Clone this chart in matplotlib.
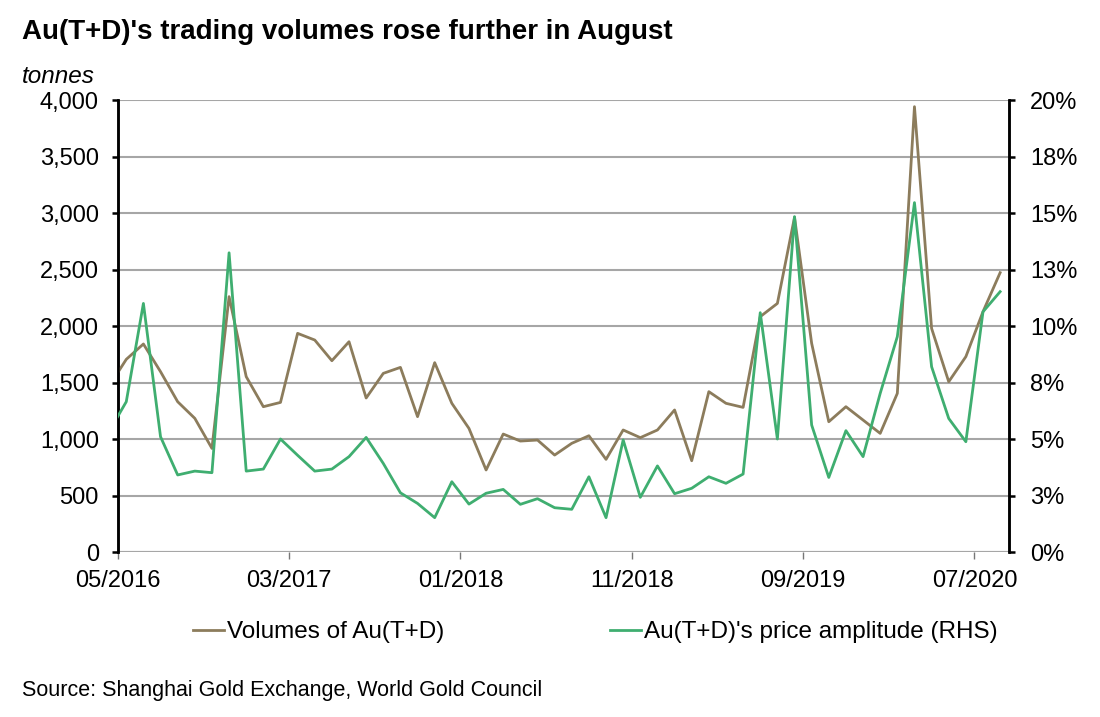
import matplotlib
matplotlib.use("Agg")
import matplotlib.pyplot as plt
import numpy as np

plt.rcParams['font.family'] = ['Liberation Sans', 'DejaVu Sans']

# monthly series, 04/2016 .. 08/2020 (the April point is only partly visible)
months = ['2016-04', '2016-05', '2016-06', '2016-07', '2016-08', '2016-09', '2016-10', '2016-11', '2016-12',
          '2017-01', '2017-02', '2017-03', '2017-04', '2017-05', '2017-06', '2017-07', '2017-08', '2017-09',
          '2017-10', '2017-11', '2017-12',
          '2018-01', '2018-02', '2018-03', '2018-04', '2018-05', '2018-06', '2018-07', '2018-08', '2018-09',
          '2018-10', '2018-11', '2018-12',
          '2019-01', '2019-02', '2019-03', '2019-04', '2019-05', '2019-06', '2019-07', '2019-08', '2019-09',
          '2019-10', '2019-11', '2019-12',
          '2020-01', '2020-02', '2020-03', '2020-04', '2020-05', '2020-06', '2020-07', '2020-08']

volumes = [1469, 1705, 1841, 1596, 1330, 1183, 917, 2260, 1552,
           1286, 1324, 1935, 1876, 1693, 1861, 1363, 1581, 1634, 1198, 1676, 1316,
           1094, 726, 1044, 982, 991, 858, 962, 1029, 820, 1080, 1012, 1080,
           1257, 808, 1419, 1316, 1280, 2083, 2200, 2962, 1847, 1153, 1286, 1168,
           1050, 1404, 3941, 1979, 1507, 1729, 2127, 2472]

amplitude = [5.34, 6.65, 11.0, 5.10, 3.41, 3.58, 3.51, 13.24, 3.58,
             3.67, 5.0, 4.28, 3.58, 3.67, 4.22, 5.07, 3.92, 2.62, 2.15, 1.52, 3.11,
             2.12, 2.60, 2.77, 2.11, 2.36, 1.96, 1.89, 3.33, 1.52, 4.96, 2.42, 3.81,
             2.58, 2.82, 3.33, 3.04, 3.45, 10.59, 5.0, 14.84, 5.62, 3.30, 5.37, 4.22,
             7.02, 9.53, 15.46, 8.2, 5.91, 4.88, 10.63, 11.52]

xtick_labels = ['05/2016', '03/2017', '01/2018', '11/2018', '09/2019', '07/2020']
left_ticks = [0, 500, 1000, 1500, 2000, 2500, 3000, 3500, 4000]
right_ticks = [0, 2.5, 5, 7.5, 10, 12.5, 15, 17.5, 20]
right_labels = ['0%', '3%', '5%', '8%', '10%', '13%', '15%', '18%', '20%']

brown = '#8c7c5c'
green = '#3fae70'

# month index from 04/2016, points sit mid-month
x = np.arange(len(months)) + 0.5
tick_pos = [months.index(m[3:] + '-' + m[:2]) for m in xtick_labels]

fig = plt.figure(figsize=(11, 7.17), dpi=100)
ax = fig.add_axes((0.107, 0.2301, 0.81, 0.6304))
ax2 = ax.twinx()

l1, = ax.plot(x, volumes, color=brown, lw=2, zorder=3)
l2, = ax2.plot(x, amplitude, color=green, lw=2, zorder=3)

ax.set_xlim(1, 53)
ax.set_ylim(0, 4000)
ax2.set_ylim(0, 20)

ax.set_yticks(left_ticks)
ax.set_yticklabels([f'{v:,}' for v in left_ticks])
ax2.set_yticks(right_ticks)
ax2.set_yticklabels(right_labels)
ax.set_xticks(tick_pos)
ax.set_xticklabels(xtick_labels)

ax.grid(axis='y', color='#a6a6a6', lw=1.5)
ax.set_axisbelow(True)

for a in (ax, ax2):
    a.spines['top'].set_visible(False)
    a.spines['bottom'].set_visible(False)
    a.spines['left'].set_linewidth(1.8)
    a.spines['right'].set_linewidth(1.8)
ax.axhline(0, color='#a6a6a6', lw=1.5, zorder=1)

ax.tick_params(axis='y', length=4.5, width=1.8, labelsize=17, pad=9)
ax2.tick_params(axis='y', length=4.5, width=1.8, labelsize=17, pad=11)
ax.tick_params(axis='x', length=5, width=1, color='#777777', labelsize=17, pad=8)

fig.text(0.02, 0.955, "Au(T+D)'s trading volumes rose further in August", fontsize=20,
         fontweight='bold', ha='left', va='center')
fig.text(0.02, 0.894, 'tonnes', fontsize=17.5, style='italic', ha='left', va='center')
fig.text(0.02, 0.037, 'Source: Shanghai Gold Exchange, World Gold Council', fontsize=15.5,
         ha='left', va='center')

fig.legend([l1, l2], ['Volumes of Au(T+D)', "Au(T+D)'s price amplitude (RHS)"],
           loc='center', bbox_to_anchor=(0.541, 0.118), ncol=2, frameon=False,
           fontsize=17.5, handlelength=1.3, handletextpad=0.12, columnspacing=6.8)

fig.savefig('out.png', dpi=100)
